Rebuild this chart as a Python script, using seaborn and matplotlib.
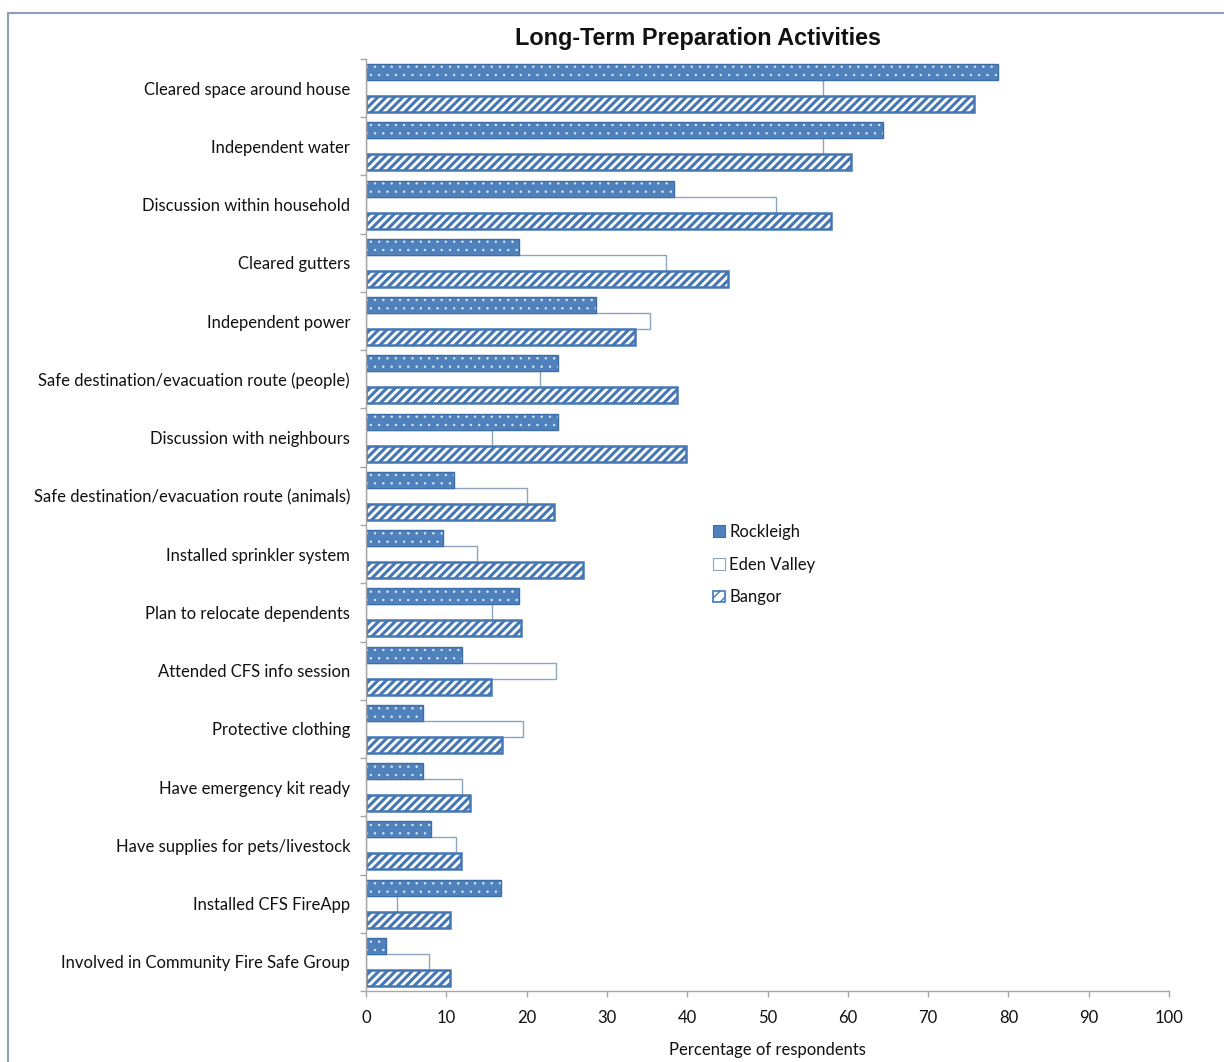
import matplotlib
matplotlib.use("Agg")
import matplotlib.pyplot as plt
import seaborn as sns
import pandas as pd
import numpy as np
from matplotlib.patches import Patch, Rectangle

categories = [
    "Cleared space around house",
    "Independent water",
    "Discussion within household",
    "Cleared gutters",
    "Independent power",
    "Safe destination/evacuation route (people)",
    "Discussion with neighbours",
    "Safe destination/evacuation route (animals)",
    "Installed sprinkler system",
    "Plan to relocate dependents",
    "Attended CFS info session",
    "Protective clothing",
    "Have emergency kit ready",
    "Have supplies for pets/livestock",
    "Installed CFS FireApp",
    "Involved in Community Fire Safe Group",
]
sites = ["Rockleigh", "Eden Valley", "Bangor"]
rockleigh = [78.7, 64.4, 38.3, 19.1, 28.7, 23.9, 23.9, 11.0, 9.6, 19.1, 12.0, 7.1, 7.1, 8.1, 16.8, 2.5]
eden_valley = [56.9, 56.9, 51.1, 37.4, 35.4, 21.7, 15.7, 20.0, 13.8, 15.7, 23.6, 19.6, 12.0, 11.2, 3.9, 7.8]
bangor = [75.7, 60.4, 57.9, 45.1, 33.5, 38.7, 39.9, 23.4, 27.0, 19.3, 15.6, 16.9, 12.9, 11.8, 10.5, 10.5]
x_ticks = [0, 10, 20, 30, 40, 50, 60, 70, 80, 90, 100]

df = pd.DataFrame({
    "activity": categories * 3,
    "site": [s for s in sites for _ in categories],
    "value": rockleigh + eden_valley + bangor,
})

sns.set_theme(style="white")
plt.rcParams["font.family"] = ["Lato", "DejaVu Sans"]

BLUE = "#4f81bd"
BLUE_EDGE = "#3d6ea8"
EDEN_EDGE = "#8ea4bd"
BANGOR_EDGE = "#4577b5"
AXIS_GREY = "#a6a6a6"
FS = 12

fig = plt.figure(figsize=(12.24, 10.62), dpi=100)
ax = fig.add_axes([366 / 1224, 1 - 991 / 1062, (1169 - 366) / 1224, (991 - 59) / 1062])

sns.barplot(data=df, y="activity", x="value", hue="site", hue_order=sites,
            order=categories, orient="h", width=0.82, saturation=1,
            palette=[BLUE, "white", "white"], legend=False, ax=ax)

def set_hlw(p, lw):
    if hasattr(p, "set_hatch_linewidth"):
        p.set_hatch_linewidth(lw)

# Rockleigh: blue with sparse white dots
for bar in ax.containers[0]:
    bar.set_facecolor(BLUE)
    bar.set_edgecolor("#dfe8f4")
    bar.set_hatch("..")
    bar.set_linewidth(0)
    set_hlw(bar, 0.5)
    ax.add_patch(Rectangle(bar.get_xy(), bar.get_width(), bar.get_height(),
                           fill=False, edgecolor=BLUE_EDGE, linewidth=1.0, zorder=bar.get_zorder() + 0.1))
# Eden Valley: white with thin grey-blue outline
for bar in ax.containers[1]:
    bar.set_facecolor("white")
    bar.set_edgecolor(EDEN_EDGE)
    bar.set_linewidth(1.0)
# Bangor: white with blue diagonal stripes
for bar in ax.containers[2]:
    bar.set_facecolor("white")
    bar.set_edgecolor(BANGOR_EDGE)
    bar.set_hatch("////")
    bar.set_linewidth(1.8)
    set_hlw(bar, 2.2)

ax.set_xlim(0, 100)
ax.set_ylim(len(categories) - 0.5, -0.5)
ax.set_xticks(x_ticks)
ax.set_xticklabels([str(t) for t in x_ticks])
ax.set_yticks(np.arange(len(categories)))
ax.set_yticklabels(categories)
ax.set_yticks(np.arange(-0.5, len(categories), 1), minor=True)

ax.tick_params(axis="x", which="major", bottom=True, length=4, width=1, color=AXIS_GREY,
               direction="out", pad=10, labelsize=FS, labelcolor="#111111")
ax.tick_params(axis="y", which="major", left=False, length=0, pad=11.5, labelsize=FS,
               labelcolor="#111111")
ax.tick_params(axis="y", which="minor", left=True, length=4, width=1, color=AXIS_GREY,
               direction="out")

ax.set_xlabel("Percentage of respondents", fontsize=FS, color="#111111", labelpad=11)
ax.set_ylabel("")

for side in ["top", "right"]:
    ax.spines[side].set_visible(False)
for side in ["left", "bottom"]:
    ax.spines[side].set_color(AXIS_GREY)
    ax.spines[side].set_linewidth(1.0)

handles = [
    Patch(facecolor=BLUE, edgecolor=BLUE_EDGE, linewidth=0.8),
    Patch(facecolor="white", edgecolor=EDEN_EDGE, linewidth=0.8),
    Patch(facecolor="white", edgecolor=BANGOR_EDGE, hatch="///", linewidth=1.2),
]
leg = ax.legend(handles, sites, loc="upper left", bbox_to_anchor=(0.414, 0.517),
                frameon=False, handlelength=0.7, handleheight=0.7, handletextpad=0.25,
                labelspacing=1.0, fontsize=FS)
for t in leg.get_texts():
    t.set_color("#111111")

fig.text(698 / 1224, 1 - 38 / 1062, "Long-Term Preparation Activities",
         ha="center", va="center", fontsize=16.8, fontweight="bold",
         family=["Liberation Sans Narrow", "Liberation Sans", "DejaVu Sans"], color="#111111")

fig.add_artist(Rectangle((8 / 1224, -0.1), 1.2, (1 - 13 / 1062) + 0.1,
                         transform=fig.transFigure, fill=False,
                         edgecolor="#8aa0bc", linewidth=1.5))

fig.savefig("out.png", dpi=100, facecolor="white")
